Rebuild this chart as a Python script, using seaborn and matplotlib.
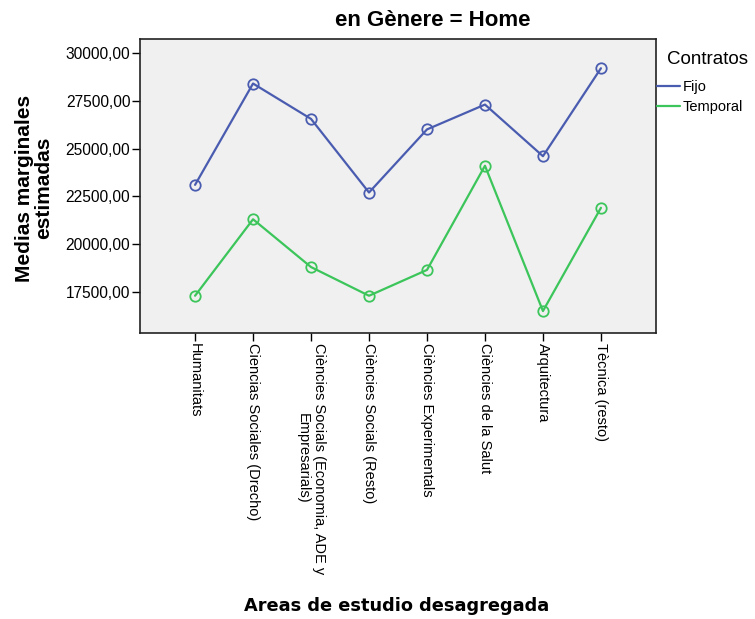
import matplotlib
matplotlib.use("Agg")
import matplotlib.pyplot as plt
from matplotlib.lines import Line2D
import seaborn as sns
import pandas as pd

categories = [
    "Humanitats",
    "Ciencias Sociales (Drecho)",
    "Ciències Socials (Economia, ADE y\nEmpresarials)",
    "Ciències Socials (Resto)",
    "Ciències Experimentals",
    "Ciències de la Salut",
    "Arquitectura",
    "Tècnica (resto)",
]
fijo = [23100, 28400, 26550, 22700, 26000, 27300, 24600, 29200]
temporal = [17300, 21300, 18800, 17300, 18650, 24100, 16500, 21900]
series_names = ["Fijo", "Temporal"]
yticks = [17500, 20000, 22500, 25000, 27500, 30000]
colors = {"Fijo": "#4a5cb0", "Temporal": "#3cc55a"}

df = pd.DataFrame({
    "area": categories * 2,
    "valor": fijo + temporal,
    "contrato": [series_names[0]] * len(categories) + [series_names[1]] * len(categories),
})

sns.set_style("white")
plt.rcParams["font.family"] = ["Liberation Sans", "DejaVu Sans"]
plt.rcParams["text.color"] = "black"
plt.rcParams["axes.labelcolor"] = "black"
plt.rcParams["xtick.color"] = "black"
plt.rcParams["ytick.color"] = "black"

fig = plt.figure(figsize=(7.55, 6.19), dpi=100)
ax = fig.add_axes([0.1854, 0.462, 0.6835, 0.475])
ax.set_facecolor("#f0f0f0")

sns.lineplot(data=df, x="area", y="valor", hue="contrato", palette=colors,
             sort=False, marker="o", markersize=7.5, linewidth=1.6,
             ax=ax, legend=False)
for ln in ax.lines:
    ln.set_markerfacecolor("none")
    ln.set_markeredgecolor(ln.get_color())
    ln.set_markeredgewidth(1.3)

ax.set_xlim(-0.95, len(categories) - 1 + 0.95)
ax.set_ylim(15350, 30730)
ax.set_yticks(yticks)
ax.set_yticklabels([f"{v},00" for v in yticks], fontsize=11.2)
ax.set_xticks(range(len(categories)))
ax.set_xticklabels(categories, rotation=270, fontsize=10.5, ha="center", va="top",
                   linespacing=1.2)
ax.tick_params(axis="both", direction="out", length=6, width=1, color="black", pad=1,
               bottom=True, left=True)
for s in ax.spines.values():
    s.set_color("#222222")
    s.set_linewidth(1.2)

ax.set_xlabel("")
ax.set_ylabel("")
fig.text(433 / 755, 1 - 20 / 619, "en Gènere = Home", ha="center", va="center",
         fontsize=16, fontweight="bold")
fig.text(34 / 755, 1 - 188 / 619, "Medias marginales\nestimadas", ha="center",
         va="center", rotation=90, fontsize=15, fontweight="bold", linespacing=1.0)
fig.text(397 / 755, 1 - 606 / 619, "Areas de estudio desagregada", ha="center",
         va="center", fontsize=12.8, fontweight="bold", family="DejaVu Sans")

fig.text(708 / 755, 1 - 60 / 619, "Contratos", ha="center", va="center",
         fontsize=13.5)
handles = [Line2D([0], [0], color=colors[n], lw=1.6) for n in series_names]
leg = fig.legend(handles, series_names, loc="upper left",
                 bbox_to_anchor=(657 / 755, 1 - 80 / 619), frameon=False,
                 fontsize=10.5, handlelength=1.6,
                 handletextpad=0.15, labelspacing=0.4, borderaxespad=0,
                 borderpad=0)

fig.savefig("out.png", dpi=100)
